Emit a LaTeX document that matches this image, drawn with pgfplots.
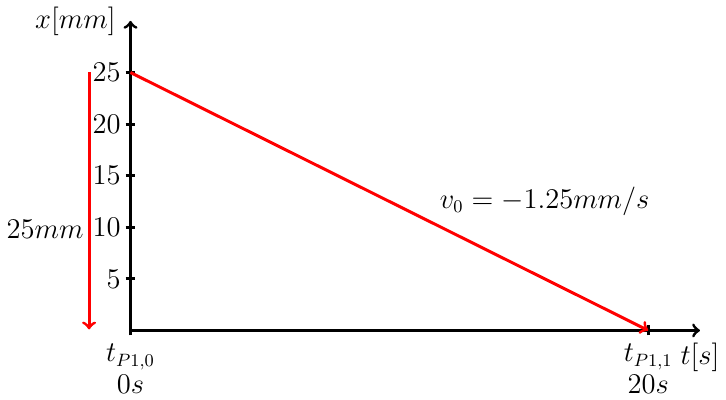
\documentclass[border=0pt]{standalone}
\usepackage{pgfplots}
\pgfplotsset{compat=1.18}
\newcommand\lf{\fontsize{13.3}{15.8}\selectfont}

\begin{document}
\begin{tikzpicture}
\begin{axis}[
    scale only axis,
    width=287pt, height=156pt,
    axis lines=middle,
    axis line style={line width=1.5pt, ->},
    xmin=0, xmax=22,
    ymin=0, ymax=30,
    clip=false,
    xtick={0,20},
    xticklabels={{$t_{P1,0}$\\$0s$},{$t_{P1,1}$\\$20s$}},
    ytick={5,10,15,20,25},
    hide obscured x ticks=false,
    major tick style={black, line width=1.5pt},
    major tick length=5pt,
    tick label style={font=\lf},
    xticklabel style={align=center, anchor=north, yshift=-1pt},
    yticklabel style={xshift=1pt},
    every axis x label/.style={at={(rel axis cs:1,0)}, anchor=north, yshift=-3pt, font=\lf},
    every axis y label/.style={at={(rel axis cs:0,1)}, anchor=east, xshift=-4pt, font=\lf},
    xlabel={$t[s]$},
    ylabel={$x[mm]$},
]
\addplot[red, line width=1.5pt, ->] coordinates {(0,25) (20,0)};
\addplot[red, line width=1.5pt, ->] coordinates {(-1.6,25) (-1.6,0.1)};
\node[font=\lf] at (axis cs:-3.3,9.8) {$25mm$};
\node[font=\lf] at (axis cs:16,12.5) {$v_0=-1.25mm/s$};
\end{axis}
\end{tikzpicture}
\end{document}
